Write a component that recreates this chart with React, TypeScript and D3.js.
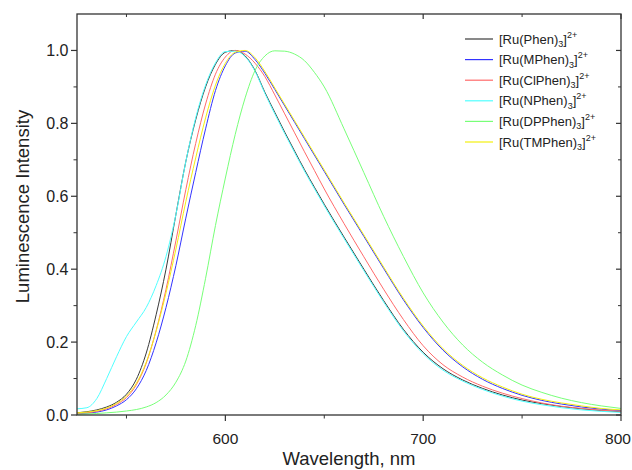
import React from 'react';
import * as d3 from 'd3';

const wavelengths = [525, 530, 535, 540, 545, 550, 555, 560, 565, 570, 575, 580, 585, 590, 595, 600, 605, 610, 615, 620, 625, 630, 635, 640, 645, 650, 660, 670, 680, 690, 700, 710, 720, 730, 740, 750, 760, 770, 780, 790, 800];

const phen = [0.006, 0.009, 0.014, 0.022, 0.035, 0.057, 0.098, 0.17, 0.275, 0.40, 0.55, 0.695, 0.81, 0.9, 0.962, 0.995, 1.0, 0.985, 0.945, 0.885, 0.83, 0.776, 0.724, 0.673, 0.625, 0.578, 0.488, 0.4, 0.314, 0.235, 0.172, 0.127, 0.096, 0.073, 0.055, 0.041, 0.031, 0.023, 0.017, 0.012, 0.009];
const mphen = [0.003, 0.005, 0.008, 0.014, 0.025, 0.042, 0.072, 0.122, 0.198, 0.295, 0.41, 0.54, 0.665, 0.785, 0.89, 0.958, 0.993, 0.998, 0.975, 0.937, 0.893, 0.848, 0.803, 0.758, 0.713, 0.668, 0.578, 0.49, 0.402, 0.316, 0.24, 0.178, 0.132, 0.098, 0.073, 0.054, 0.04, 0.03, 0.022, 0.016, 0.012];
const clphen = [0.004, 0.006, 0.01, 0.017, 0.029, 0.048, 0.083, 0.142, 0.232, 0.345, 0.478, 0.618, 0.745, 0.853, 0.935, 0.982, 1.0, 0.99, 0.965, 0.928, 0.878, 0.826, 0.774, 0.722, 0.671, 0.62, 0.525, 0.434, 0.345, 0.262, 0.19, 0.138, 0.104, 0.079, 0.06, 0.045, 0.033, 0.024, 0.018, 0.013, 0.01];
const nphen = [0.017, 0.02, 0.045, 0.1, 0.16, 0.215, 0.255, 0.295, 0.355, 0.435, 0.55, 0.695, 0.815, 0.905, 0.966, 0.997, 0.998, 0.983, 0.943, 0.882, 0.826, 0.772, 0.72, 0.669, 0.621, 0.574, 0.484, 0.396, 0.31, 0.231, 0.168, 0.123, 0.093, 0.07, 0.052, 0.038, 0.028, 0.02, 0.014, 0.01, 0.007];
const dpphen = [0.002, 0.003, 0.004, 0.006, 0.008, 0.011, 0.015, 0.022, 0.034, 0.055, 0.09, 0.148, 0.245, 0.375, 0.52, 0.65, 0.77, 0.87, 0.945, 0.985, 0.999, 0.998, 0.99, 0.972, 0.94, 0.9, 0.785, 0.665, 0.545, 0.435, 0.335, 0.255, 0.192, 0.145, 0.11, 0.082, 0.062, 0.046, 0.034, 0.025, 0.018];
const tmphen = [0.006, 0.008, 0.012, 0.019, 0.032, 0.052, 0.087, 0.145, 0.23, 0.335, 0.455, 0.585, 0.705, 0.815, 0.905, 0.965, 0.995, 1.0, 0.98, 0.942, 0.897, 0.852, 0.807, 0.762, 0.717, 0.672, 0.582, 0.494, 0.406, 0.32, 0.244, 0.182, 0.136, 0.102, 0.077, 0.057, 0.043, 0.033, 0.025, 0.018, 0.014];

const seriesNames = ['Phen', 'MPhen', 'ClPhen', 'NPhen', 'DPPhen', 'TMPhen'];
const seriesValues = [phen, mphen, clphen, nphen, dpphen, tmphen];
const seriesColors = ['#3a3a3a', '#3333ff', '#ff6a6a', '#50ffff', '#78ff78', '#f4f010'];

const xTicks = [600, 700, 800];
const xMinor = [550, 650, 750];
const yTicks = [0, 0.2, 0.4, 0.6, 0.8, 1.0];
const yMinor = [0.1, 0.3, 0.5, 0.7, 0.9];

const W = 632, H = 470;
const L = 77, R = 621, T = 14, B = 415;
const font = '"Liberation Sans", Arial, sans-serif';

export default function App() {
  const x = d3.scaleLinear().domain([525, 800]).range([L, R]);
  const y = d3.scaleLinear().domain([0, 1.1]).range([B, T]);
  const line = d3.line<[number, number]>()
    .x(d => x(d[0]))
    .y(d => y(d[1]))
    .curve(d3.curveMonotoneX);
  const axisColor = '#333';
  return (
    <svg width={W} height={H} style={{ position: 'absolute', left: 0, top: 0, background: '#fff' }} fontFamily={font}>
      <defs>
        <clipPath id="plot"><rect x={L} y={T} width={R - L} height={B - T} /></clipPath>
      </defs>
      <g clipPath="url(#plot)" fill="none" strokeWidth={1}>
        {seriesValues.map((vals, i) => (
          <path key={i} d={line(wavelengths.map((w, j) => [w, vals[j]] as [number, number])) || ''} stroke={seriesColors[i]} />
        ))}
      </g>
      <rect x={L} y={T} width={R - L} height={B - T} fill="none" stroke={axisColor} strokeWidth={1.3} />
      {xTicks.map(t => (
        <g key={'x' + t}>
          <line x1={x(t)} x2={x(t)} y1={B} y2={B + 6} stroke={axisColor} strokeWidth={1.2} />
          <line x1={x(t)} x2={x(t)} y1={T} y2={T + 5} stroke={axisColor} strokeWidth={1.2} />
          <text x={Math.min(x(t), W - 14)} y={443.5} textAnchor="middle" fontSize={15.5} fill="#222">{t}</text>
        </g>
      ))}
      {xMinor.map(t => (
        <g key={'xm' + t}>
          <line x1={x(t)} x2={x(t)} y1={B} y2={B + 3.5} stroke={axisColor} />
          <line x1={x(t)} x2={x(t)} y1={T} y2={T + 3} stroke={axisColor} />
        </g>
      ))}
      {yTicks.map(t => (
        <g key={'y' + t}>
          <line x1={L - 6} x2={L} y1={y(t)} y2={y(t)} stroke={axisColor} strokeWidth={1.2} />
          <line x1={R - 5} x2={R} y1={y(t)} y2={y(t)} stroke={axisColor} strokeWidth={1.2} />
          <text x={68.5} y={y(t) + 6} textAnchor="end" fontSize={16} fill="#222">{t.toFixed(1)}</text>
        </g>
      ))}
      {yMinor.map(t => (
        <g key={'ym' + t}>
          <line x1={L - 3.5} x2={L} y1={y(t)} y2={y(t)} stroke={axisColor} />
          <line x1={R - 3} x2={R} y1={y(t)} y2={y(t)} stroke={axisColor} />
        </g>
      ))}
      <text x={(L + R) / 2} y={465} textAnchor="middle" fontSize={18.5} fill="#222">Wavelength, nm</text>
      <text transform={`translate(29, ${(T + B) / 2 - 8}) rotate(-90)`} textAnchor="middle" fontSize={18.5} fill="#222">Luminescence Intensity</text>
      {seriesNames.map((n, i) => {
        const yy = 39 + i * 20.6;
        return (
          <g key={'lg' + n}>
            <line x1={465} x2={493} y1={yy} y2={yy} stroke={seriesColors[i]} strokeWidth={1.2} />
            <text x={499} y={yy + 4.5} fontSize={13} fill="#222">
              {`[Ru(${n})`}
              <tspan fontSize={9} dy={3.5}>3</tspan>
              <tspan dy={-3.5}>]</tspan>
              <tspan fontSize={9} dy={-6}>2+</tspan>
            </text>
          </g>
        );
      })}
    </svg>
  );
}
